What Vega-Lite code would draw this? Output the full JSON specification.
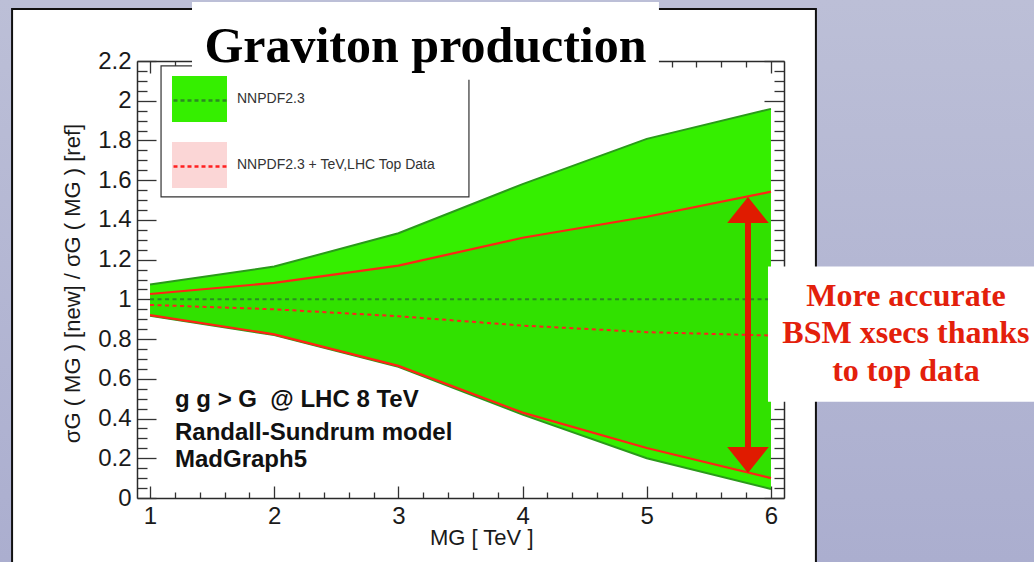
{
  "$schema": "https://vega.github.io/schema/vega-lite/v6.json",
  "width": 647,
  "height": 437,
  "autosize": {"type": "none"},
  "padding": {"left": 137, "top": 61, "right": 250, "bottom": 64},
  "background": "white",
  "config": {
    "view": {"stroke": null},
    "axis": {"labelFont": "Liberation Sans", "titleFont": "Liberation Sans", "labelColor": "#1a1a1a", "titleColor": "#1a1a1a", "domainColor": "#2a2a2a", "tickColor": "#333333", "grid": false, "titleFontWeight": "normal", "domainWidth": 1.5, "tickWidth": 1.3}
  },
  "datasets": {
    "curves": [
      {"M": 1, "lo": 0.918, "hi": 1.075, "cen": 1.0, "band": "NNPDF2.3"},
      {"M": 2, "lo": 0.82, "hi": 1.165, "cen": 1.0, "band": "NNPDF2.3"},
      {"M": 3, "lo": 0.66, "hi": 1.333, "cen": 1.0, "band": "NNPDF2.3"},
      {"M": 4, "lo": 0.42, "hi": 1.58, "cen": 1.0, "band": "NNPDF2.3"},
      {"M": 5, "lo": 0.2, "hi": 1.808, "cen": 1.0, "band": "NNPDF2.3"},
      {"M": 6, "lo": 0.045, "hi": 1.959, "cen": 1.0, "band": "NNPDF2.3"},
      {"M": 1, "lo": 0.921, "hi": 1.027, "cen": 0.972, "band": "NNPDF2.3 + TeV,LHC Top Data"},
      {"M": 2, "lo": 0.824, "hi": 1.083, "cen": 0.95, "band": "NNPDF2.3 + TeV,LHC Top Data"},
      {"M": 3, "lo": 0.665, "hi": 1.17, "cen": 0.915, "band": "NNPDF2.3 + TeV,LHC Top Data"},
      {"M": 4, "lo": 0.43, "hi": 1.31, "cen": 0.868, "band": "NNPDF2.3 + TeV,LHC Top Data"},
      {"M": 5, "lo": 0.252, "hi": 1.416, "cen": 0.835, "band": "NNPDF2.3 + TeV,LHC Top Data"},
      {"M": 6, "lo": 0.1, "hi": 1.542, "cen": 0.818, "band": "NNPDF2.3 + TeV,LHC Top Data"}
    ]
  },
  "data": {"name": "curves"},
  "resolve": {"axis": {"x": "independent", "y": "independent"}},
  "layer": [
    {
      "data": {"values": [{}]},
      "mark": {"type": "rect", "color": "#bcbfd7", "clip": false},
      "encoding": {
        "x": {"datum": -2, "type": "quantitative", "axis": null},
        "x2": {"datum": 10},
        "y": {"datum": 2.462, "type": "quantitative", "axis": null},
        "y2": {"datum": 3.5}
      }
    },
    {
      "data": {"values": [{}]},
      "mark": {"type": "rect", "clip": false, "color": {"gradient": "linear", "x1": 0, "y1": 0, "x2": 0, "y2": 1, "stops": [{"offset": 0.22, "color": "#bcbfd7"}, {"offset": 0.85, "color": "#abaecf"}]}},
      "encoding": {
        "x": {"datum": -2, "type": "quantitative", "axis": null},
        "x2": {"datum": -0.111},
        "y": {"datum": -1, "type": "quantitative", "axis": null},
        "y2": {"datum": 3.5}
      }
    },
    {
      "data": {"values": [{}]},
      "mark": {"type": "rect", "clip": false, "color": {"gradient": "linear", "x1": 0, "y1": 0, "x2": 0, "y2": 1, "stops": [{"offset": 0.22, "color": "#bcbfd7"}, {"offset": 0.85, "color": "#abaecf"}]}},
      "encoding": {
        "x": {"datum": 6.362, "type": "quantitative", "axis": null},
        "x2": {"datum": 10},
        "y": {"datum": -1, "type": "quantitative", "axis": null},
        "y2": {"datum": 3.5}
      }
    },
    {
      "data": {"values": [{}]},
      "mark": {"type": "rect", "filled": false, "color": "#111111", "strokeWidth": 2, "clip": false},
      "encoding": {
        "x": {"datum": -0.111, "type": "quantitative", "axis": null},
        "x2": {"datum": 6.362},
        "y": {"datum": -1, "type": "quantitative", "axis": null},
        "y2": {"datum": 2.462}
      }
    },
    {
      "data": {"values": [{}]},
      "mark": {"type": "rect", "fill": "white", "stroke": "#333333", "strokeWidth": 1.2, "clip": false},
      "encoding": {
        "x": {"datum": 1.0886, "type": "quantitative", "axis": null},
        "x2": {"datum": 3.568},
        "y": {"datum": 1.516, "type": "quantitative", "axis": null},
        "y2": {"datum": 2.175}
      }
    },
    {
      "transform": [{"filter": "datum.band === 'NNPDF2.3'"}],
      "mark": {"type": "area", "opacity": 1},
      "encoding": {
        "x": {
          "field": "M", "type": "quantitative",
          "scale": {"domain": [0.895, 6.105], "nice": false, "zero": false},
          "axis": {
            "orient": "bottom",
            "values": [1, 1.2, 1.4, 1.6, 1.8, 2, 2.2, 2.4, 2.6, 2.8, 3, 3.2, 3.4, 3.6, 3.8, 4, 4.2, 4.4, 4.6, 4.8, 5, 5.2, 5.4, 5.6, 5.8, 6],
            "labelExpr": "abs(datum.value - round(datum.value)) < 0.001 ? format(datum.value, 'd') : ''",
            "tickSize": {"condition": {"test": "abs(datum.value - round(datum.value)) < 0.001", "value": -12}, "value": -6},
            "labelPadding": 37, "labelBaseline": "alphabetic", "labelFontSize": 24, "labelFlush": false, "labelOverlap": false,
            "title": "MG [ TeV ]", "titleFontSize": 22, "titleX": 396, "titleY": 46, "titleAlign": "right", "titleBaseline": "alphabetic"
          }
        },
        "y": {
          "field": "hi", "type": "quantitative",
          "scale": {"domain": [0, 2.2], "nice": false, "zero": false},
          "axis": {
            "orient": "left",
            "values": [0, 0.05, 0.1, 0.15, 0.2, 0.25, 0.3, 0.35, 0.4, 0.45, 0.5, 0.55, 0.6, 0.65, 0.7, 0.75, 0.8, 0.85, 0.9, 0.95, 1, 1.05, 1.1, 1.15, 1.2, 1.25, 1.3, 1.35, 1.4, 1.45, 1.5, 1.55, 1.6, 1.65, 1.7, 1.75, 1.8, 1.85, 1.9, 1.95, 2, 2.05, 2.1, 2.15, 2.2],
            "labelExpr": "abs(datum.value * 5 - round(datum.value * 5)) < 0.001 ? format(datum.value, '~g') : ''",
            "tickSize": {"condition": {"test": "abs(datum.value * 5 - round(datum.value * 5)) < 0.001", "value": -19}, "value": -10},
            "labelPadding": 25, "labelFontSize": 24, "labelFlush": false, "labelOverlap": false,
            "title": "σG ( MG ) [new] / σG ( MG ) [ref]", "titleFontSize": 22, "titleAngle": -90, "titleX": -58, "titleY": 222, "titleAlign": "center", "titleBaseline": "alphabetic"
          }
        },
        "y2": {"field": "lo"},
        "fill": {
          "field": "band", "type": "nominal",
          "scale": {"domain": ["NNPDF2.3", "NNPDF2.3 + TeV,LHC Top Data"], "range": ["#35ef00", "#fbd6d6"]},
          "legend": {"orient": "none", "legendX": 35, "legendY": 10.5, "title": null, "symbolType": "M-1,-0.836H1V0.836H-1Z", "symbolSize": 3025, "symbolStrokeWidth": 0, "symbolOpacity": 1, "labelFont": "Liberation Sans", "labelFontSize": 14, "labelColor": "#333333", "labelOffset": 10, "rowPadding": 15, "padding": 0, "labelLimit": 400}
        }
      }
    },
    {
      "transform": [{"filter": "datum.band !== 'NNPDF2.3'"}],
      "mark": {"type": "area", "color": "#0b5a00", "opacity": 0.09},
      "encoding": {
        "x": {"field": "M", "type": "quantitative", "axis": null},
        "y": {"field": "hi", "type": "quantitative", "axis": null},
        "y2": {"field": "lo"}
      }
    },
    {
      "transform": [{"filter": "datum.band === 'NNPDF2.3'"}],
      "mark": {"type": "line", "color": "#2a9a1a", "strokeWidth": 2},
      "encoding": {
        "x": {
          "field": "M", "type": "quantitative",
          "axis": {
            "orient": "top",
            "values": [1, 1.2, 1.4, 1.6, 1.8, 2, 2.2, 2.4, 2.6, 2.8, 3, 3.2, 3.4, 3.6, 3.8, 4, 4.2, 4.4, 4.6, 4.8, 5, 5.2, 5.4, 5.6, 5.8, 6],
            "labels": false, "title": null,
            "tickSize": {"condition": {"test": "abs(datum.value - round(datum.value)) < 0.001", "value": -12}, "value": -6}
          }
        },
        "y": {
          "field": "hi", "type": "quantitative",
          "axis": {
            "orient": "right",
            "values": [0, 0.05, 0.1, 0.15, 0.2, 0.25, 0.3, 0.35, 0.4, 0.45, 0.5, 0.55, 0.6, 0.65, 0.7, 0.75, 0.8, 0.85, 0.9, 0.95, 1, 1.05, 1.1, 1.15, 1.2, 1.25, 1.3, 1.35, 1.4, 1.45, 1.5, 1.55, 1.6, 1.65, 1.7, 1.75, 1.8, 1.85, 1.9, 1.95, 2, 2.05, 2.1, 2.15, 2.2],
            "labels": false, "title": null,
            "tickSize": {"condition": {"test": "abs(datum.value * 5 - round(datum.value * 5)) < 0.001", "value": -20}, "value": -10}
          }
        }
      }
    },
    {
      "transform": [{"filter": "datum.band === 'NNPDF2.3'"}],
      "mark": {"type": "line", "color": "#2a9a1a", "strokeWidth": 2},
      "encoding": {
        "x": {"field": "M", "type": "quantitative", "axis": null},
        "y": {"field": "lo", "type": "quantitative", "axis": null}
      }
    },
    {
      "transform": [{"filter": "datum.band !== 'NNPDF2.3'"}],
      "mark": {"type": "line", "color": "#ff2414", "strokeWidth": 2.2},
      "encoding": {
        "x": {"field": "M", "type": "quantitative", "axis": null},
        "y": {"field": "hi", "type": "quantitative", "axis": null}
      }
    },
    {
      "transform": [{"filter": "datum.band !== 'NNPDF2.3'"}],
      "mark": {"type": "line", "color": "#ff2414", "strokeWidth": 2.2},
      "encoding": {
        "x": {"field": "M", "type": "quantitative", "axis": null},
        "y": {"field": "lo", "type": "quantitative", "axis": null}
      }
    },
    {
      "mark": {"type": "line", "strokeWidth": 2, "strokeDash": [4, 3.5]},
      "encoding": {
        "x": {"field": "M", "type": "quantitative", "axis": null},
        "y": {"field": "cen", "type": "quantitative", "axis": null},
        "stroke": {
          "field": "band", "type": "nominal",
          "scale": {"range": ["#2b8a22", "#ff2020"]},
          "legend": {"orient": "none", "legendX": 35, "legendY": 10.5, "title": null, "symbolType": "stroke", "symbolSize": 3025, "symbolStrokeWidth": 2.5, "symbolDash": [4, 3], "labelExpr": "''", "labelFont": "Liberation Sans", "labelFontSize": 14, "labelOffset": 10, "rowPadding": 30, "padding": 0}
        }
      }
    },
    {
      "data": {"values": [{"label": "g g > G\u00a0 @ LHC 8 TeV"}]},
      "mark": {"type": "text", "font": "Liberation Sans", "fontWeight": "bold", "fontSize": 24, "color": "#111111", "align": "left", "baseline": "alphabetic", "clip": false},
      "encoding": {
        "x": {"datum": 1.201, "type": "quantitative", "axis": null},
        "y": {"datum": 0.458, "type": "quantitative", "axis": null},
        "text": {"field": "label"}
      }
    },
    {
      "data": {"values": [{"label": "Randall-Sundrum model"}]},
      "mark": {"type": "text", "font": "Liberation Sans", "fontWeight": "bold", "fontSize": 24, "color": "#111111", "align": "left", "baseline": "alphabetic", "clip": false},
      "encoding": {
        "x": {"datum": 1.201, "type": "quantitative", "axis": null},
        "y": {"datum": 0.292, "type": "quantitative", "axis": null},
        "text": {"field": "label"}
      }
    },
    {
      "data": {"values": [{"label": "MadGraph5"}]},
      "mark": {"type": "text", "font": "Liberation Sans", "fontWeight": "bold", "fontSize": 24, "color": "#111111", "align": "left", "baseline": "alphabetic", "clip": false},
      "encoding": {
        "x": {"datum": 1.201, "type": "quantitative", "axis": null},
        "y": {"datum": 0.156, "type": "quantitative", "axis": null},
        "text": {"field": "label"}
      }
    },
    {
      "data": {"values": [{}]},
      "mark": {"type": "rect", "color": "white", "clip": false},
      "encoding": {
        "x": {"datum": 1.338, "type": "quantitative", "axis": null},
        "x2": {"datum": 5.098},
        "y": {"datum": 2.105, "type": "quantitative", "axis": null},
        "y2": {"datum": 2.497}
      }
    },
    {
      "data": {"values": [{"label": "Graviton production"}]},
      "mark": {"type": "text", "font": "Liberation Serif", "fontWeight": "bold", "fontSize": 50, "color": "#000000", "align": "center", "baseline": "alphabetic", "clip": false},
      "encoding": {
        "x": {"datum": 3.218, "type": "quantitative", "axis": null},
        "y": {"datum": 2.195, "type": "quantitative", "axis": null},
        "text": {"field": "label"}
      }
    },
    {
      "data": {"values": [{}]},
      "mark": {"type": "rect", "color": "white", "clip": false},
      "encoding": {
        "x": {"datum": 5.976, "type": "quantitative", "axis": null},
        "x2": {"datum": 10},
        "y": {"datum": 0.485, "type": "quantitative", "axis": null},
        "y2": {"datum": 1.165}
      }
    },
    {
      "data": {"values": [{"label": ["More accurate", "BSM xsecs thanks", "to top data"]}]},
      "mark": {"type": "text", "font": "Liberation Serif", "fontWeight": "bold", "fontSize": 32, "color": "#e3200b", "align": "center", "baseline": "alphabetic", "lineHeight": 37.5, "clip": false},
      "encoding": {
        "x": {"datum": 7.087, "type": "quantitative", "axis": null},
        "y": {"datum": 0.968, "type": "quantitative", "axis": null},
        "text": {"field": "label"}
      }
    },
    {
      "data": {"values": [{}]},
      "mark": {"type": "rule", "color": "#e01b00", "strokeWidth": 6, "clip": false},
      "encoding": {
        "x": {"datum": 5.815, "type": "quantitative", "axis": null},
        "y": {"datum": 1.45, "type": "quantitative", "axis": null},
        "y2": {"datum": 0.19}
      }
    },
    {
      "data": {"values": [{}]},
      "mark": {"type": "point", "shape": "M0,-1L1.6,1L-1.6,1Z", "size": 676, "filled": true, "opacity": 1, "color": "#e01b00", "clip": false},
      "encoding": {
        "x": {"datum": 5.815, "type": "quantitative", "axis": null},
        "y": {"datum": 1.45, "type": "quantitative", "axis": null}
      }
    },
    {
      "data": {"values": [{}]},
      "mark": {"type": "point", "shape": "M0,1L1.6,-1L-1.6,-1Z", "size": 676, "filled": true, "opacity": 1, "color": "#e01b00", "clip": false},
      "encoding": {
        "x": {"datum": 5.815, "type": "quantitative", "axis": null},
        "y": {"datum": 0.191, "type": "quantitative", "axis": null}
      }
    }
  ]
}
